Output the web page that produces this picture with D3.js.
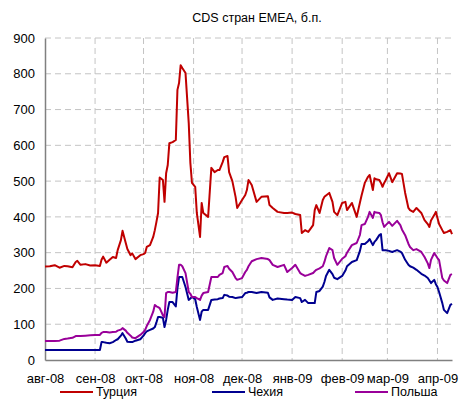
<!DOCTYPE html>
<html>
<head>
<meta charset="utf-8">
<script src="https://cdn.jsdelivr.net/npm/d3@7"></script>
<style>
  body { margin: 0; background: #fff; }
  text { font-family: "Liberation Sans", Arial, sans-serif; }
</style>
</head>
<body>
<div id="plotDiv"></div>
<script>
// --- data ---
const dates = [
  "2008-08-01","2008-08-04","2008-08-07","2008-08-10","2008-08-13","2008-08-15","2008-08-18","2008-08-20",
  "2008-08-21","2008-08-23","2008-08-26","2008-08-29","2008-09-01","2008-09-04","2008-09-05","2008-09-06",
  "2008-09-08","2008-09-10","2008-09-12","2008-09-14","2008-09-15","2008-09-17","2008-09-18","2008-09-20",
  "2008-09-21","2008-09-23","2008-09-24","2008-09-26","2008-09-29","2008-10-01","2008-10-02","2008-10-03",
  "2008-10-05","2008-10-07","2008-10-08","2008-10-09","2008-10-10","2008-10-11","2008-10-13","2008-10-14",
  "2008-10-15","2008-10-16","2008-10-17","2008-10-19","2008-10-21","2008-10-22","2008-10-23","2008-10-24",
  "2008-10-25","2008-10-27","2008-10-29","2008-10-30","2008-10-31","2008-11-02","2008-11-03","2008-11-05",
  "2008-11-06","2008-11-07","2008-11-10","2008-11-12","2008-11-14","2008-11-16","2008-11-17","2008-11-19",
  "2008-11-20","2008-11-22","2008-11-23","2008-11-25","2008-11-27","2008-11-28","2008-12-01","2008-12-03",
  "2008-12-04","2008-12-05","2008-12-07","2008-12-10","2008-12-13","2008-12-17","2008-12-18","2008-12-20",
  "2008-12-23","2008-12-27","2008-12-29","2009-01-01","2009-01-03","2009-01-06","2009-01-07","2009-01-09",
  "2009-01-11","2009-01-14","2009-01-15","2009-01-16","2009-01-18","2009-01-20","2009-01-21","2009-01-22",
  "2009-01-24","2009-01-26","2009-01-27","2009-01-29","2009-02-01","2009-02-03","2009-02-04","2009-02-07",
  "2009-02-10","2009-02-12","2009-02-13","2009-02-15","2009-02-17","2009-02-18","2009-02-20","2009-02-21",
  "2009-02-22","2009-02-24","2009-02-25","2009-02-26","2009-02-27","2009-02-28","2009-03-02","2009-03-04",
  "2009-03-07","2009-03-09","2009-03-10","2009-03-12","2009-03-14","2009-03-15","2009-03-17","2009-03-19",
  "2009-03-22","2009-03-24","2009-03-26","2009-03-27","2009-03-28","2009-03-30","2009-03-31","2009-04-01",
  "2009-04-02","2009-04-04","2009-04-05","2009-04-07","2009-04-09","2009-04-10"
];

const turkey = [
  261,262,265,258,263,262,259,274, 277,266,268,264,265,263,280,289,
  272,280,288,285,307,335,361,327, 310,293,298,282,293,296,299,316,
  321,344,363,386,411,510,503,442, 522,545,606,609,615,755,774,824,
  816,802,662,551,495,484,411,344, 439,411,400,537,525,531,531,553,
  567,570,525,500,456,425,447,461, 475,503,489,442,456,458,433,425,
  414,411,411,412,408,405,355,363, 358,377,419,433,411,447,456,460,
  467,442,414,405,439,442,419,439, 400,440,460,495,512,517,475,508,
  505,503,495,484,495,503,522,497, 522,521,520,467,425,419,414,425,
  411,391,380,372,390,405,414,397, 380,363,355,358,363,352
];

const czech = [
  28,28,28,28,28,28,28,28, 28,28,28,28,28,28,50,50,
  48,47,50,56,58,68,75,60, 51,50,50,54,58,68,75,80,
  84,88,92,105,120,120,118,92, 112,140,162,162,150,200,232,232,
  232,204,168,172,176,170,148,112, 135,140,140,168,169,170,172,173,
  182,180,177,176,173,174,176,187, 188,190,190,187,190,188,175,168,
  172,170,169,168,176,173,162,168, 159,159,159,190,193,205,218,235,
  252,240,230,226,235,250,262,274, 279,305,324,324,332,338,321,330,
  335,349,352,307,307,307,305,302, 307,303,299,280,266,262,258,252,
  241,236,229,222,215,224,212,204, 190,159,140,131,154,157
];

const poland = [
  53,53,53,54,59,60,62,67, 67,67,68,69,70,70,76,78,
  78,77,78,79,82,85,89,82, 76,68,63,61,70,78,84,95,
  112,135,154,150,148,145,125,120, 187,190,190,188,190,230,266,266,
  262,243,190,185,176,176,173,168, 180,187,190,232,232,232,238,243,
  260,263,255,246,229,224,229,246, 252,262,276,282,285,282,279,266,
  260,266,246,257,266,243,240,235, 238,243,248,252,256,262,274,290,
  313,307,285,266,283,290,300,321, 327,350,377,380,400,414,397,414,
  412,411,405,385,372,377,386,375, 389,377,365,349,325,316,307,310,
  302,288,270,257,280,299,292,285, 279,229,222,215,238,240
];

const seriesNames = ["Турция", "Чехия", "Польша"];
const seriesColors = ["#c00000", "#000090", "#990099"];
const yTicks = [0, 100, 200, 300, 400, 500, 600, 700, 800, 900];
const monthTicks = ["2008-08-01","2008-09-01","2008-10-01","2008-11-01","2008-12-01",
                    "2009-01-01","2009-02-01","2009-03-01","2009-04-01"];
const monthLabels = ["авг-08","сен-08","окт-08","ноя-08","дек-08","янв-09","фев-09","мар-09","апр-09"];

// --- size ---
const total_width = 462, total_height = 401;
const chart_margin = {top:38, right:10, bottom:41, left:45};
const chart_width = total_width - chart_margin.left - chart_margin.right;
const chart_height = total_height - chart_margin.top - chart_margin.bottom;

const svg = d3.select("#plotDiv")
    .append("svg")
    .attr("width", total_width)
    .attr("height", total_height);

const chart = svg.append("g")
    .attr("transform", `translate(${chart_margin.left},${chart_margin.top})`);

// --- scales ---
const parse = d3.timeParse("%Y-%m-%d");
const xScale = d3.scaleTime()
    .domain([parse("2008-08-01"), parse("2009-04-10")])
    .range([0, chart_width]);

const yScale = d3.scaleLinear()
    .domain([0, 900])
    .range([chart_height, 0]);

// --- grid (dashed) ---
chart.append("g")
    .selectAll("line")
    .data(yTicks.slice(1))
    .enter().append("line")
    .attr("x1", 0).attr("x2", chart_width)
    .attr("y1", d => yScale(d)).attr("y2", d => yScale(d))
    .attr("stroke", "#c4c4c4")
    .attr("stroke-dasharray", "6,4");

chart.append("g")
    .selectAll("line")
    .data(monthTicks.slice(1))
    .enter().append("line")
    .attr("x1", d => xScale(parse(d))).attr("x2", d => xScale(parse(d)))
    .attr("y1", 0).attr("y2", chart_height)
    .attr("stroke", "#c4c4c4")
    .attr("stroke-dasharray", "6,4");

// --- axes ---
const yAxis = d3.axisLeft(yScale).tickValues(yTicks).tickSize(0).tickPadding(10);
const yG = chart.append("g").call(yAxis);
yG.select(".domain").attr("stroke", "#808080").attr("stroke-width", 1.5);
yG.selectAll("text").style("font-size", "13px").attr("fill", "#000");

const xAxis = d3.axisBottom(xScale)
    .tickValues(monthTicks.map(parse))
    .tickFormat((d, i) => monthLabels[i])
    .tickSize(0).tickPadding(14);
const xG = chart.append("g")
    .attr("transform", `translate(0,${chart_height})`)
    .call(xAxis);
xG.select(".domain").attr("stroke", "#808080").attr("stroke-width", 1.5);
xG.selectAll("text").style("font-size", "13px").attr("fill", "#000");

// --- lines ---
const line = d3.line()
    .x((d, i) => xScale(parse(dates[i])))
    .y(d => yScale(d));

[turkey, czech, poland].forEach((vals, k) => {
  chart.append("path")
      .datum(vals)
      .attr("fill", "none")
      .attr("stroke", seriesColors[k])
      .attr("stroke-width", 2)
      .attr("stroke-linejoin", "round")
      .attr("d", line);
});

// --- title ---
svg.append("text")
    .attr("x", 257)
    .attr("y", 22)
    .attr("text-anchor", "middle")
    .style("font-size", "12.5px")
    .text("CDS стран EMEA, б.п.");

// --- legend (kept just inside the bottom edge) ---
const legendX = [60, 212, 355];
const legend = svg.append("g").attr("transform", "translate(0,392)");
seriesNames.forEach((name, k) => {
  legend.append("line")
      .attr("x1", legendX[k]).attr("x2", legendX[k] + 33)
      .attr("y1", 0).attr("y2", 0)
      .attr("stroke", seriesColors[k])
      .attr("stroke-width", 2);
  legend.append("text")
      .attr("x", legendX[k] + 36)
      .attr("y", 4)
      .style("font-size", "12.5px")
      .text(name);
});
</script>
</body>
</html>
